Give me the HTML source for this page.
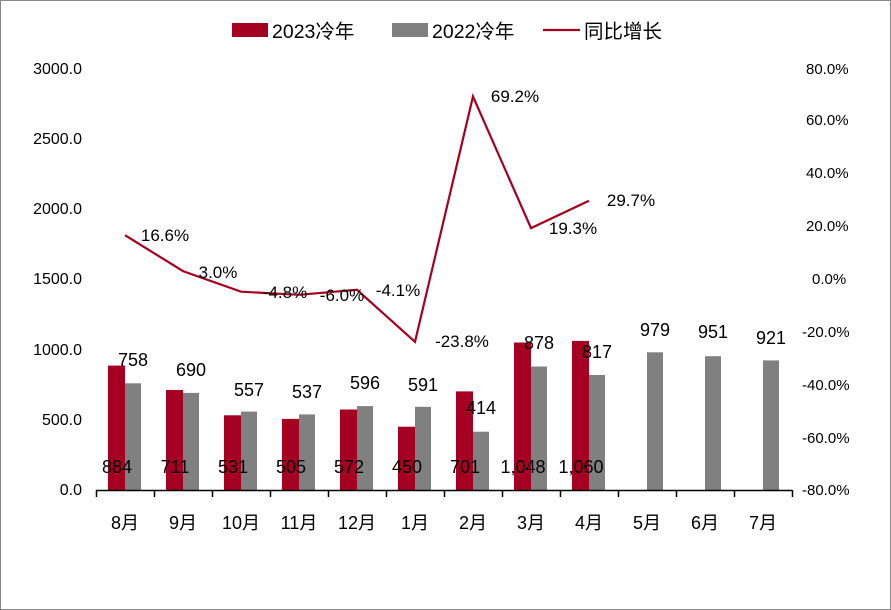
<!DOCTYPE html><html><head><meta charset="utf-8"><style>body{margin:0;background:#fff}svg{display:block}text{font-family:"Liberation Sans","Noto Sans CJK SC",sans-serif;fill:#000}</style></head><body>
<svg width="891" height="610" viewBox="0 0 891 610">
<rect x="0.5" y="0.5" width="890" height="609" fill="#fff" stroke="#888"/>
<g font-size="16" text-anchor="end">
<text x="82" y="74">3000.0</text><text x="82" y="144">2500.0</text><text x="82" y="214">2000.0</text><text x="82" y="284">1500.0</text><text x="82" y="355">1000.0</text><text x="82" y="425">500.0</text><text x="82" y="495">0.0</text>
</g>
<g font-size="15" text-anchor="start">
<text x="806" y="74">80.0%</text><text x="806" y="125">60.0%</text><text x="806" y="178">40.0%</text><text x="806" y="231">20.0%</text><text x="812" y="284">0.0%</text><text x="802" y="337">-20.0%</text><text x="802" y="390">-40.0%</text><text x="802" y="443">-60.0%</text><text x="802" y="495">-80.0%</text>
</g>
<g fill="#a50021">
<rect x="108" y="365.6" width="17" height="124.4"/><rect x="166" y="390" width="17" height="100"/><rect x="224" y="415.3" width="17" height="74.7"/><rect x="282" y="418.9" width="17" height="71.1"/><rect x="340" y="409.5" width="17" height="80.5"/><rect x="398" y="426.7" width="17" height="63.3"/><rect x="456" y="391.4" width="17" height="98.6"/><rect x="514" y="342.5" width="17" height="147.5"/><rect x="572" y="340.9" width="17" height="149.1"/>
</g>
<g fill="#808080">
<rect x="125" y="383.3" width="16" height="106.7"/><rect x="183" y="392.9" width="16" height="97.1"/><rect x="241" y="411.6" width="16" height="78.4"/><rect x="299" y="414.4" width="16" height="75.6"/><rect x="357" y="406.1" width="16" height="83.9"/><rect x="415" y="406.8" width="16" height="83.2"/><rect x="473" y="431.7" width="16" height="58.3"/><rect x="531" y="366.5" width="16" height="123.5"/><rect x="589" y="375" width="16" height="115"/><rect x="647" y="352.3" width="16" height="137.7"/><rect x="705" y="356.2" width="16" height="133.8"/><rect x="763" y="360.4" width="16" height="129.6"/>
</g>
<path d="M96 490.5H792M96.5 490v7M154.5 490v7M212.5 490v7M270.5 490v7M328.5 490v7M386.5 490v7M444.5 490v7M502.5 490v7M560.5 490v7M618.5 490v7M676.5 490v7M734.5 490v7M792.5 490v7" stroke="#000" stroke-width="1.5" fill="none"/>
<polyline points="125,235.2 183,271.1 241,291.7 299,294.8 357,289.8 415,341.8 473,96.5 531,228.1 589,200.7" fill="none" stroke="#a50021" stroke-width="2.2"/>
<g font-size="18" text-anchor="middle">
<text x="117" y="473">884</text><text x="175" y="473">711</text><text x="233" y="473">531</text><text x="291" y="473">505</text><text x="349" y="473">572</text><text x="407" y="473">450</text><text x="465" y="473">701</text><text x="523" y="473">1,048</text><text x="581" y="473">1,060</text>
<text x="133" y="366">758</text><text x="191" y="376">690</text><text x="249" y="396">557</text><text x="307" y="398">537</text><text x="365" y="389">596</text><text x="423" y="391">591</text><text x="481" y="414">414</text><text x="539" y="349">878</text><text x="597" y="358">817</text><text x="655" y="336">979</text><text x="713" y="338">951</text><text x="771" y="344">921</text>
</g>
<g font-size="17" text-anchor="middle">
<text x="165" y="241">16.6%</text><text x="218" y="278">3.0%</text><text x="285" y="298">-4.8%</text><text x="342" y="301">-6.0%</text><text x="398" y="296">-4.1%</text><text x="462" y="347">-23.8%</text><text x="515" y="102">69.2%</text><text x="573" y="234">19.3%</text><text x="631" y="206">29.7%</text>
</g>
<g font-size="18" text-anchor="middle">
<text x="125" y="529">8月</text><text x="183" y="529">9月</text><text x="241" y="529">10月</text><text x="299" y="529">11月</text><text x="357" y="529">12月</text><text x="415" y="529">1月</text><text x="473" y="529">2月</text><text x="531" y="529">3月</text><text x="589" y="529">4月</text><text x="647" y="529">5月</text><text x="705" y="529">6月</text><text x="763" y="529">7月</text>
</g>
<rect x="232" y="23" width="36" height="14" fill="#a50021"/><text x="272" y="38" font-size="19.5">2023冷年</text>
<rect x="392" y="23" width="36" height="14" fill="#808080"/><text x="432" y="38" font-size="19.5">2022冷年</text>
<line x1="543" y1="30" x2="580" y2="30" stroke="#a50021" stroke-width="2.2"/><text x="584" y="38" font-size="19.5">同比增长</text>
</svg></body></html>
